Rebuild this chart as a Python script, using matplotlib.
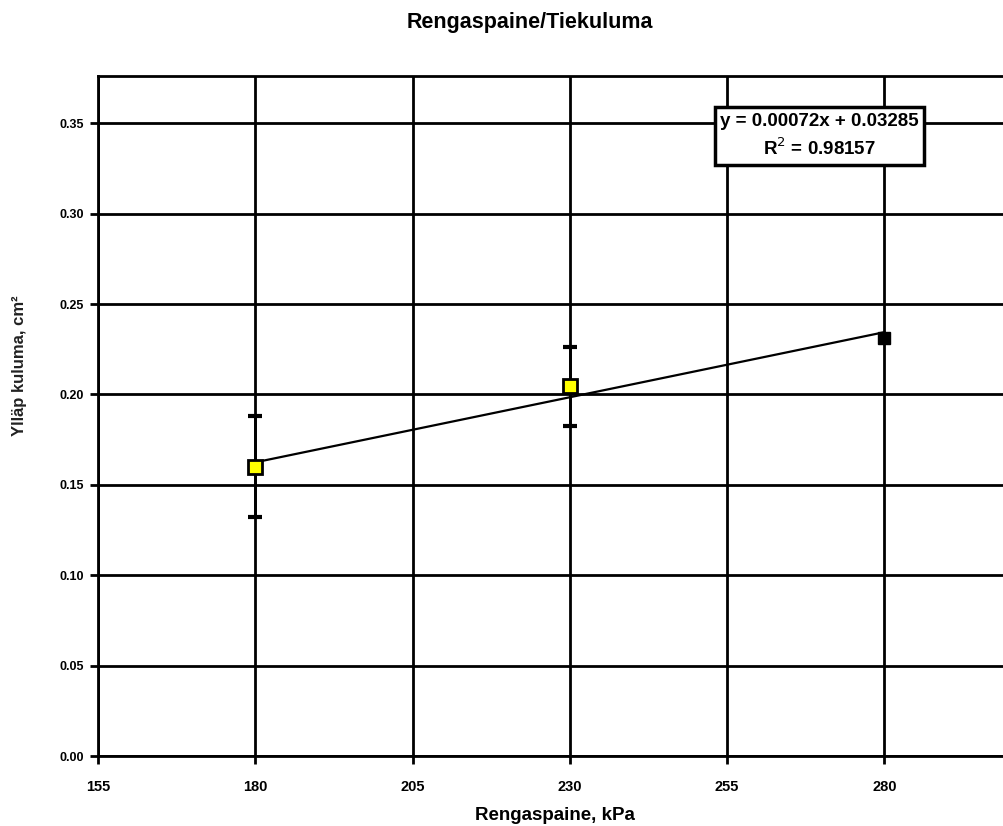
import numpy as np
import matplotlib
matplotlib.use('Agg')
import matplotlib.pyplot as plt

plt.rcParams['font.family'] = ['Liberation Sans', 'DejaVu Sans']

# data
pressure = [180, 230, 280]
wear = [0.160, 0.2045, 0.231]
wear_err = [0.028, 0.022, 0.0]
slope = 0.00072
intercept = 0.03285
r2 = 0.98157
x_ticks = [155, 180, 205, 230, 255, 280]
y_ticks = [0.00, 0.05, 0.10, 0.15, 0.20, 0.25, 0.30, 0.35]

fig = plt.figure(figsize=(10.04, 8.26), dpi=100)
ax = fig.add_axes([0.0976, 0.0847, 0.940, 0.823])

# grid lines (black, like the original)
for xt in x_ticks:
    ax.axvline(xt, color='black', lw=2.0, zorder=1)
for yt in y_ticks:
    ax.axhline(yt, color='black', lw=2.0, zorder=1)

# trend line
xfit = np.array([pressure[0], pressure[-1]])
ax.plot(xfit, slope * xfit + intercept, color='black', lw=1.6, zorder=3)

# error bars for the first two points
ax.errorbar(pressure[:2], wear[:2], yerr=wear_err[:2], fmt='none',
            ecolor='black', elinewidth=2.0, capsize=5, capthick=3, zorder=2)
ax.plot(pressure[:2], wear[:2], 's', ms=10, mfc='#ffff00', mec='black',
        mew=2, zorder=4)
ax.plot(pressure[2:], wear[2:], 's', ms=9, mfc='black', mec='black', zorder=4)

ax.set_xlim(155, 305)
ax.set_ylim(0, 0.376)
ax.set_xticks(x_ticks)
ax.set_yticks(y_ticks)
ax.set_xticklabels([str(v) for v in x_ticks], fontsize=10.5, fontweight='bold')
ax.set_yticklabels(['%.2f' % v for v in y_ticks], fontsize=9, fontweight='bold')
ax.tick_params(axis='both', length=6, width=2, color='black', pad=11)
ax.tick_params(axis='y', pad=4)
for sp in ax.spines.values():
    sp.set_linewidth(2)

fig.text(0.528, 0.973, 'Rengaspaine/Tiekuluma', fontsize=15.5,
         fontweight='bold', ha='center', va='center')
fig.text(0.553, 0.013, 'Rengaspaine, kPa', fontsize=13.5, fontweight='bold',
         ha='center', va='center')
fig.text(0.019, 0.557, 'Ylläp kuluma, cm²', fontsize=12, fontweight='bold',
         ha='center', va='center', rotation=90, color='#222222')

ax.text(0.7645, 0.912, 'y = 0.00072x + 0.03285\nR$^2$ = 0.98157',
        transform=ax.transAxes, ha='center', va='center', fontsize=13.5,
        fontweight='bold', linespacing=1.45, zorder=5,
        bbox=dict(boxstyle='square,pad=0.3', fc='white', ec='black', lw=2.5))

fig.savefig('out.png', dpi=100)
